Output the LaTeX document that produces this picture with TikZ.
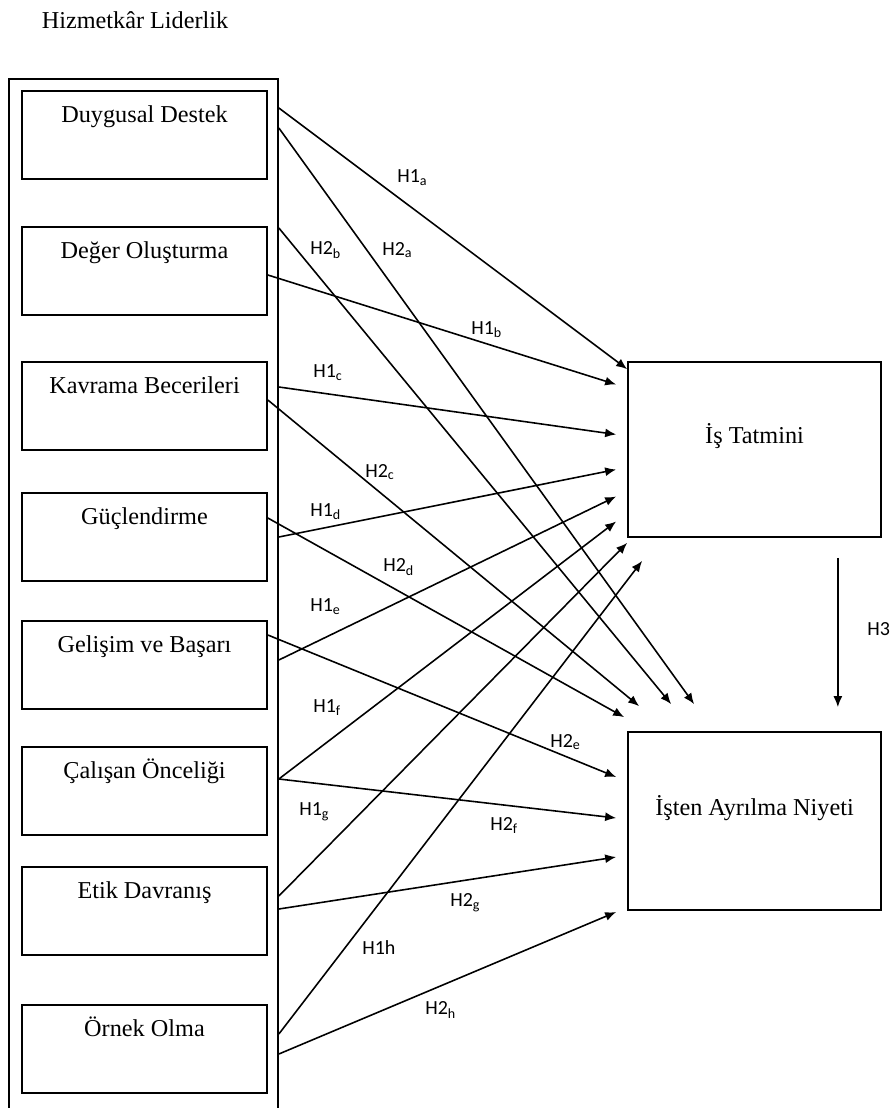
\documentclass[tikz,border=0pt]{standalone}
\usepackage{fontspec}
\setmainfont{Liberation Serif}
\newfontfamily\hypfont{Carlito}
\usetikzlibrary{arrows.meta,calc}

\begin{document}
\begin{tikzpicture}[x=0.02cm, y=-0.02cm, >={Latex[length=0.22cm,width=0.18cm]},
    every node/.style={font=\fontsize{13.8}{16}\selectfont},
    factor/.style={draw, line width=1pt, minimum width=4.9cm, minimum height=1.76cm, text height=0.35cm, text depth=0.87cm, inner sep=0pt},
    outcome/.style={draw, line width=1pt, minimum width=5.06cm, minimum height=3.5cm, text height=0.3cm, text depth=0.54cm, inner sep=0pt},
    hyp/.style={font=\hypfont\fontsize{11.4}{13}\selectfont, anchor=west, inner sep=0pt},
    link/.style={->, line width=0.9pt}]
    \useasboundingbox (0,0) rectangle (893,1108);
    \node (title) at (135,20) {Hizmetkâr Liderlik};
    \draw[line width=1pt] (9,1108) |- (278,79) -- (278,1108);
    % servant leadership dimensions
    \node[factor] (dd) at (144.5,135) {Duygusal Destek};
    \node[factor] (do) at (144.5,271) {Değer Oluşturma};
    \node[factor] (kb) at (144.5,406) {Kavrama Becerileri};
    \node[factor] (gu) at (144.5,537) {Güçlendirme};
    \node[factor] (gb) at (144.5,665) {Gelişim ve Başarı};
    \node[factor] (co) at (144.5,791) {Çalışan Önceliği};
    \node[factor] (ed) at (144.5,911) {Etik Davranış};
    \node[factor] (oo) at (144.5,1049) {Örnek Olma};
    % outcomes
    \node[outcome] (it) at (754.5,449.5) {İş Tatmini};
    \node[outcome, minimum height=3.56cm] (ia) at (754.5,821) {İşten Ayrılma Niyeti};
    % H1 paths
    \draw[link] ($(dd.east)+(11,-27)$) -- ($(it.north west)+(0,8)$);
    \draw[link] ($(do.east)+(0,4)$) -- ($(it.west)+(-11,-65)$);
    \draw[link] ($(kb.east)+(11,-19)$) -- ($(it.west)+(-11,-15)$);
    \draw[link] ($(gu.east)+(11,0)$) -- ($(it.west)+(-11,20)$);
    \draw[link] ($(gb.east)+(11,-5)$) -- ($(it.west)+(-11,47)$);
    \draw[link] ($(co.east)+(11,-12)$) -- ($(it.west)+(-11,72)$);
    \draw[link] ($(ed.east)+(11,-15)$) -- ($(it.south west)+(0,5)$);
    \draw[link] ($(oo.east)+(11,-15)$) -- ($(it.south west)+(15,23)$);
    % H2 paths
    \draw[link] ($(dd.east)+(11,-7)$) -- ($(ia.north west)+(67,-27)$);
    \draw[link] ($(do.east)+(11,-43)$) -- ($(ia.north west)+(44,-27)$);
    \draw[link] ($(kb.east)+(0,-6)$) -- ($(ia.north west)+(12,-25)$);
    \draw[link] ($(gu.east)+(0,-19)$) -- ($(ia.north west)+(-3,-14)$);
    \draw[link] ($(gb.east)+(0,-30)$) -- ($(ia.west)+(-11,-44)$);
    \draw[link] ($(co.east)+(11,-12)$) -- ($(ia.west)+(-11,-3)$);
    \draw[link] ($(ed.east)+(11,-2)$) -- ($(ia.west)+(-11,36)$);
    \draw[link] ($(oo.east)+(11,5)$) -- ($(ia.west)+(-11,91)$);
    % H3
    \draw[link] ($(it.south east)+(-44,20)$) -- ($(ia.north east)+(-44,-24)$);
    % labels
    \node[hyp] (l1a) at (397,178) {H1\textsubscript{a}};
    \node[hyp] (l2b) at (310,250) {H2\textsubscript{b}};
    \node[hyp] (l2a) at (382,250) {H2\textsubscript{a}};
    \node[hyp] (l1b) at (471,330) {H1\textsubscript{b}};
    \node[hyp] (l1c) at (313,373) {H1\textsubscript{c}};
    \node[hyp] (l2c) at (365,472) {H2\textsubscript{c}};
    \node[hyp] (l1d) at (310,512) {H1\textsubscript{d}};
    \node[hyp] (l2d) at (383,567) {H2\textsubscript{d}};
    \node[hyp] (l1e) at (310,607) {H1\textsubscript{e}};
    \node[hyp] (l1f) at (313,708) {H1\textsubscript{f}};
    \node[hyp] (l2e) at (550,742) {H2\textsubscript{e}};
    \node[hyp] (l1g) at (299,812) {H1\textsubscript{g}};
    \node[hyp] (l2f) at (490,825) {H2\textsubscript{f}};
    \node[hyp] (l2g) at (450,903) {H2\textsubscript{g}};
    \node[hyp] (l1h) at (362,948) {H1h};
    \node[hyp] (l2h) at (425,1010) {H2\textsubscript{h}};
    \node[hyp] (l3) at (867,629) {H3};
\end{tikzpicture}
\end{document}
